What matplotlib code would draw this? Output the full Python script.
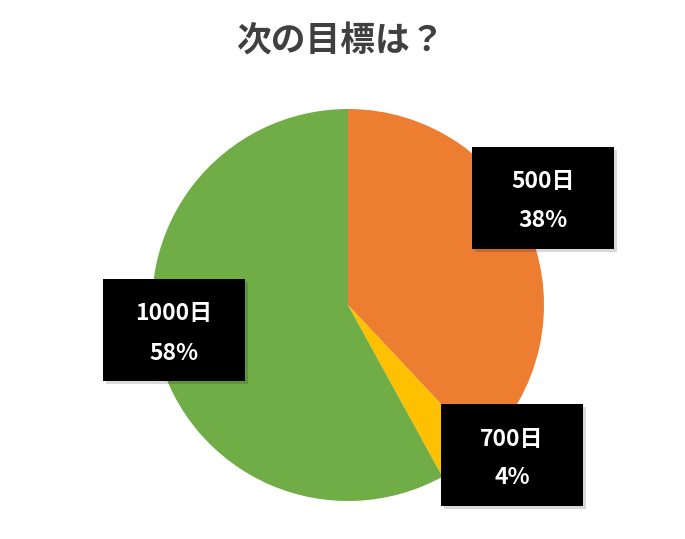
import matplotlib
matplotlib.use("Agg")
import matplotlib.pyplot as plt
from matplotlib.patches import Rectangle

plt.rcParams['font.family'] = ['Noto Sans CJK JP', 'DejaVu Sans']

title = "次の目標は？"
categories = ["500日", "700日", "1000日"]
values = [38, 4, 58]
colors = ["#ED7D31", "#FFC000", "#70AD47"]
# label box centers in pixels (x, y from top)
W, H = 685, 539
boxes = [(543, 198), (512, 455), (174, 330)]
BW, BH = 142, 102

fig = plt.figure(figsize=(W / 100, H / 100), dpi=100)
fig.patch.set_facecolor("white")

cx, cy, r = 348, 305, 196
ax = fig.add_axes([(cx - r) / W, (H - cy - r) / H, 2 * r / W, 2 * r / H])
ax.pie(values, colors=colors, startangle=90, counterclock=False,
       radius=1, wedgeprops=dict(linewidth=0))
ax.set_xlim(-1, 1)
ax.set_ylim(-1, 1)
ax.set_aspect("auto")
ax.axis("off")

fig.text(341 / W, 1 - 41 / H, title, ha="center", va="center",
         fontsize=25, fontweight="bold", color="#404040")

for (bx, by), cat, v in zip(boxes, categories, values):
    # soft shadow
    fig.add_artist(Rectangle(((bx - BW / 2 + 3) / W, (H - by - BH / 2 - 3) / H),
                             BW / W, BH / H, transform=fig.transFigure,
                             facecolor="#000000", alpha=0.15, edgecolor="none"))
    fig.add_artist(Rectangle(((bx - BW / 2) / W, (H - by - BH / 2) / H),
                             BW / W, BH / H, transform=fig.transFigure,
                             facecolor="black", edgecolor="none"))
    fig.text(bx / W, 1 - (by - 16) / H, cat, ha="center", va="center",
             fontsize=16.5, fontweight="bold", color="white")
    fig.text(bx / W, 1 - (by + 23) / H, f"{v}%", ha="center", va="center",
             fontsize=16.5, fontweight="bold", color="white")

fig.savefig("out.png", dpi=100, facecolor="white")
